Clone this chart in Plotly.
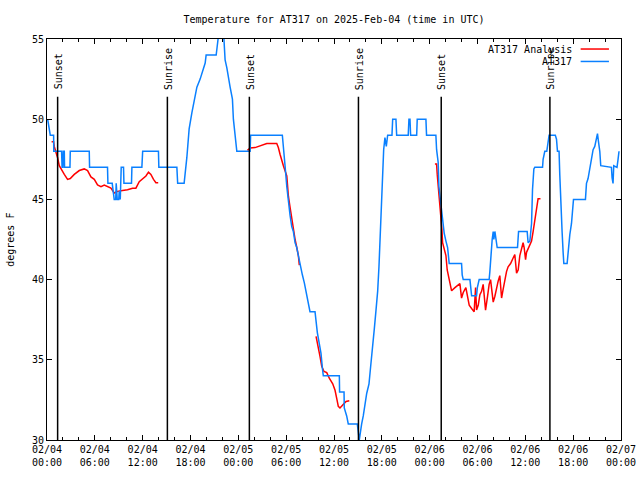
import pandas as pd
import plotly.graph_objects as go

# ---------------- data ----------------
START = pd.Timestamp("2025-02-04 00:00")
END = pd.Timestamp("2025-02-07 00:00")

# AT317 observations: hours since 2025-02-04 00:00 UTC, temperature (F)
obs_hours = [0.08, 0.25, 0.41, 0.83, 0.85, 1.83, 1.89, 2.0, 2.04, 2.17, 2.2, 2.88, 2.92, 5.3, 5.34,
             7.59, 7.64, 8.18, 8.31, 8.43, 8.62, 8.68, 8.81, 9.0, 9.06, 9.19, 9.31, 9.6, 9.65, 10.6,
             10.65, 11.9, 12.0, 13.98, 14.03, 16.29, 16.39, 17.2, 17.54, 17.83, 18.17, 18.5, 18.8,
             19.21, 19.5, 19.84, 19.96, 21.22, 21.34, 21.53, 21.84, 22.16, 22.34, 22.56, 22.97,
             23.26, 23.38, 23.6, 23.81, 25.48, 25.54, 29.52, 29.65, 29.86, 30.08, 30.28, 30.49,
             30.7, 30.9, 31.12, 31.33, 31.53, 31.74, 32.03, 32.28, 32.46, 32.66, 32.87, 32.99,
             33.62, 33.75, 33.91, 34.16, 34.37, 34.54, 34.66, 36.67, 36.7, 37.26, 37.29, 37.59,
             37.79, 38.92, 39.05, 39.17, 39.47, 39.67, 40.1, 40.39, 40.6, 40.85, 41.05, 41.27,
             41.48, 41.64, 41.77, 41.89, 42.02, 42.11, 42.23, 42.39, 42.56, 42.73, 43.27, 43.36,
             43.77, 43.86, 45.31, 45.4, 45.53, 45.61, 46.37, 46.44, 47.53, 47.61, 48.78, 48.87,
             49.07, 49.16, 49.29, 49.41, 49.62, 49.82, 50.04, 50.25, 50.45, 52.0, 52.08, 52.21,
             53.05, 53.13, 53.26, 53.88, 53.98, 54.21, 55.46, 55.55, 55.68, 55.84, 55.97, 56.05,
             56.18, 56.3, 56.47, 59.02, 59.15, 60.23, 60.35, 60.57, 60.78, 60.9, 61.07, 61.19,
             62.16, 62.23, 62.44, 62.69, 62.86, 62.98, 63.76, 63.91, 64.03, 64.23, 64.32, 64.45,
             64.61, 64.74, 64.83, 65.24, 65.36, 65.58, 65.79, 65.91, 66.04, 67.54, 67.67, 67.87,
             68.08, 68.3, 68.5, 68.71, 68.92, 69.05, 69.15, 69.34, 69.46, 70.8, 70.88, 71.0,
             71.09, 71.5, 71.63, 71.75]
obs_temp = [50.0, 49.6, 49.0, 49.0, 48.0, 48.0, 47.0, 47.0, 48.0, 48.0, 47.0, 47.0, 48.0, 48.0, 47.0,
            47.0, 46.0, 46.0, 45.5, 45.0, 45.0, 46.0, 45.0, 45.0, 45.5, 45.0, 47.0, 47.0, 46.0, 46.0,
            47.0, 47.0, 48.0, 48.0, 47.0, 47.0, 46.0, 46.0, 47.6, 49.4, 50.4, 51.35, 52.0,
            52.5, 53.0, 53.5, 54.0, 54.0, 54.5, 55.3, 56.0, 55.3, 53.7, 53.2, 52.0,
            51.25, 50.0, 48.75, 48.0, 48.0, 49.0, 49.0, 48.0, 47.1, 45.8, 44.8, 44.0,
            43.3, 43.0, 42.3, 42.0, 41.5, 40.9, 40.3, 39.8, 39.3, 38.75, 38.3, 38.0,
            38.0, 37.3, 36.7, 36.0, 35.4, 34.5, 34.0, 34.0, 33.0, 33.0, 32.0, 31.5,
            31.0, 31.0, 30.5, 30.0, 31.0, 31.5, 32.9, 33.5, 34.6, 35.7, 36.9, 38.1,
            39.3, 40.8, 42.3, 43.5, 45.5, 47.1, 48.1, 48.85, 48.3, 49.0, 49.0, 50.0,
            50.0, 49.0, 49.0, 50.0, 50.0, 49.0, 49.0, 50.0, 50.0, 49.0, 49.0, 48.1,
            47.3, 45.8, 45.2, 44.4, 43.5, 42.9, 42.4, 42.0, 41.0, 41.0, 40.3, 40.0,
            40.0, 39.5, 39.0, 39.0, 39.5, 40.0, 40.0, 40.5, 41.5, 42.5, 43.0, 42.5,
            43.0, 42.5, 42.0, 42.0, 43.0, 43.0, 42.3, 42.4, 43.5, 45.6, 46.9, 47.0,
            47.0, 47.5, 48.0, 48.0, 48.75, 49.0, 49.0, 48.75, 48.0, 48.0, 46.56, 44.4,
            43.0, 41.7, 41.0, 41.0, 41.8, 42.8, 43.5, 44.6, 45.0, 45.0, 46.0, 46.3,
            46.9, 47.5, 48.1, 48.3, 48.85, 49.1, 48.7, 48.0, 47.1, 47.0, 46.35, 46.0,
            47.1, 47.0, 47.5, 48.0]

# AT317 Analysis (None = gap)
ana_hours = [0.58, 0.83, 0.91, 1.13, 1.33, 1.54, 1.75, 2.17, 2.58, 2.92, 3.42, 4.05, 4.67, 5.09,
             5.51, 5.93, 6.34, 6.77, 7.18, 7.59, 8.02, 8.43, 8.85, 9.47, 10.1, 10.73, 11.15,
             11.57, 11.98, 12.41, 12.73, 13.03, 13.36, 13.66, 13.95, None,
             25.14, 25.48, 26.1, 26.73, 27.57, 28.82, 29.02, 29.24, 29.45, 29.65, 30.08, 30.15,
             30.28, 30.49, 30.7, 30.9, 31.12, 31.33, 31.53, 31.65, None,
             33.75, 34.04, 34.25, 34.46, 34.75, 35.09, 35.41, 35.84, 36.13, 36.34, 36.54, 36.75,
             37.17, 37.51, 37.92, None,
             48.66, 48.87, 48.95, 49.07, 49.2, 49.29, 49.41, 49.54, 49.62, 49.79, 50.04, 50.2,
             50.38, 50.54, 50.75, 51.17, 51.58, 51.79, 52.0, 52.21, 52.54, 52.71, 52.96, 53.26,
             53.58, 53.76, 53.88, 54.09, 54.3, 54.51, 54.71, 54.92, 55.01, 55.26, 55.46, 55.64,
             55.8, 55.97, 56.18, 56.39, 56.59, 56.8, 56.93, 57.02, 57.22, 57.43, 57.64, 57.84,
             58.15, 58.47, 58.68, 58.9, 59.1, 59.31, 59.52, 59.72, 59.85, 60.03, 60.15, 60.35,
             60.57, 60.78, 60.98, 61.19, 61.4, 61.6, 61.9]
ana_temp = [48.6, 48.6, 48.3, 48.0, 47.6, 47.1, 46.9, 46.56, 46.25, 46.3, 46.56, 46.8, 46.9, 46.8,
            46.4, 46.25, 45.9, 45.8, 45.9, 45.8, 45.7, 45.4, 45.5, 45.56, 45.6, 45.7, 45.7,
            46.1, 46.25, 46.46, 46.7, 46.56, 46.25, 46.04, 46.04, None,
            48.06, 48.2, 48.23, 48.33, 48.48, 48.48, 48.23, 47.8, 47.4, 47.1, 46.46, 45.8,
            45.2, 44.5, 43.75, 43.1, 42.5, 42.0, 41.5, 40.9, None,
            36.46, 35.8, 35.2, 34.6, 34.27, 34.2, 33.85, 33.5, 33.1, 32.6, 32.1, 32.0,
            32.2, 32.4, 32.44, None,
            47.2, 47.2, 46.56, 45.9, 45.2, 44.8, 43.75, 43.1, 42.3, 41.9, 41.5, 40.6,
            40.1, 39.7, 39.3, 39.5, 39.7, 39.75, 38.85, 39.2, 39.5, 38.96, 38.4, 38.2,
            38.0, 39.5, 38.1, 38.4, 39.06, 39.27, 39.7, 38.6, 38.1, 38.96, 39.7, 40.0,
            39.4, 38.6, 38.96, 39.5, 39.9, 40.25, 39.4, 38.85, 39.4, 40.0, 40.5, 40.8,
            41.0, 41.35, 41.56, 40.4, 40.6, 41.5, 42.0, 42.3, 42.0, 41.25, 41.7, 41.9,
            42.2, 42.4, 43.0, 43.75, 44.4, 45.04, 45.04]

sun_times = ["2025-02-04 01:20", "2025-02-04 15:06", "2025-02-05 01:23",
             "2025-02-05 15:04", "2025-02-06 01:27", "2025-02-06 15:05"]
sun_labels = ["Sunset", "Sunrise", "Sunset", "Sunrise", "Sunset", "Sunrise"]

series_names = ["AT317 Analysis", "AT317"]
y_range = [30, 55]

# ---------------- figure ----------------
def to_time(hours):
    return [None if h is None else (START + pd.Timedelta(hours=h)).strftime("%Y-%m-%d %H:%M:%S")
            for h in hours]

FONT = "DejaVu Sans Mono"
RED = "#ff0000"
BLUE = "#0a80ff"

fig = go.Figure()
fig.add_trace(go.Scatter(x=to_time(ana_hours), y=ana_temp, mode="lines", name=series_names[0],
                         line=dict(color=RED, width=1.5), connectgaps=False, showlegend=False))
fig.add_trace(go.Scatter(x=to_time(obs_hours), y=obs_temp, mode="lines", name=series_names[1],
                         line=dict(color=BLUE, width=1.5), showlegend=False))

SUN_TOP = 51.4
for t, lab in zip(sun_times, sun_labels):
    fig.add_shape(type="line", x0=t, x1=t, y0=y_range[0], y1=SUN_TOP, xref="x", yref="y",
                  line=dict(color="black", width=1.5))
    fig.add_annotation(x=t, y=SUN_TOP, text=lab, textangle=-90, showarrow=False,
                       xanchor="center", yanchor="bottom", yshift=5, xshift=1,
                       font=dict(family=FONT, size=10, color="black"))

# key (gnuplot style: text left of sample)
key_colors = [RED, BLUE]
key_y = [0.975, 0.944]
for name, col, ky in zip(series_names, key_colors, key_y):
    fig.add_annotation(x=0.918, y=ky, xref="paper", yref="paper", text=name, showarrow=False,
                       xanchor="right", yanchor="middle",
                       font=dict(family=FONT, size=10, color="black"))
    fig.add_shape(type="line", x0=0.9297, x1=0.979, y0=ky, y1=ky, xref="paper", yref="paper",
                  line=dict(color=col, width=1.5))

fig.add_annotation(x=-0.064, y=0.5, xref="paper", yref="paper", text="degrees F",
                   textangle=-90, showarrow=False, xanchor="center", yanchor="middle",
                   font=dict(family=FONT, size=10, color="black"))

fig.update_layout(
    width=640, height=480, autosize=False,
    margin=dict(l=47, r=19, t=39, b=40, autoexpand=False),
    paper_bgcolor="white", plot_bgcolor="white",
    font=dict(family=FONT, size=10, color="black"),
    title=dict(text="Temperature for AT317 on 2025-Feb-04 (time in UTC)", x=0.5, xref="paper",
               xanchor="center", y=1 - 19 / 480, yanchor="middle",
               font=dict(family=FONT, size=10, color="black")),
    showlegend=False,
    hovermode=False,
)
fig.update_xaxes(
    type="date", range=[START.strftime("%Y-%m-%d %H:%M"), END.strftime("%Y-%m-%d %H:%M")],
    tick0="2025-02-04 00:00", dtick=6 * 3600 * 1000, tickformat="%m/%d<br>%H:%M",
    ticks="inside", ticklen=5, tickcolor="black", tickwidth=1,
    minor=dict(dtick=2 * 3600 * 1000, tick0="2025-02-04 00:00", ticks="inside", ticklen=3,
               tickcolor="black", showgrid=False),
    showline=True, linecolor="black", linewidth=1, mirror="ticks", automargin=False,
    showgrid=False, zeroline=False, tickfont=dict(family=FONT, size=10, color="black"),
)
fig.update_yaxes(
    range=y_range, dtick=5, tick0=30, ticks="inside", ticklen=5, tickcolor="black",
    showline=True, linecolor="black", linewidth=1, mirror="ticks", automargin=False,
    showgrid=False, zeroline=False, tickfont=dict(family=FONT, size=10, color="black"),
)

fig.write_html("out.html", config={"displayModeBar": False, "staticPlot": True},
               post_script="document.body.style.margin='0';")
